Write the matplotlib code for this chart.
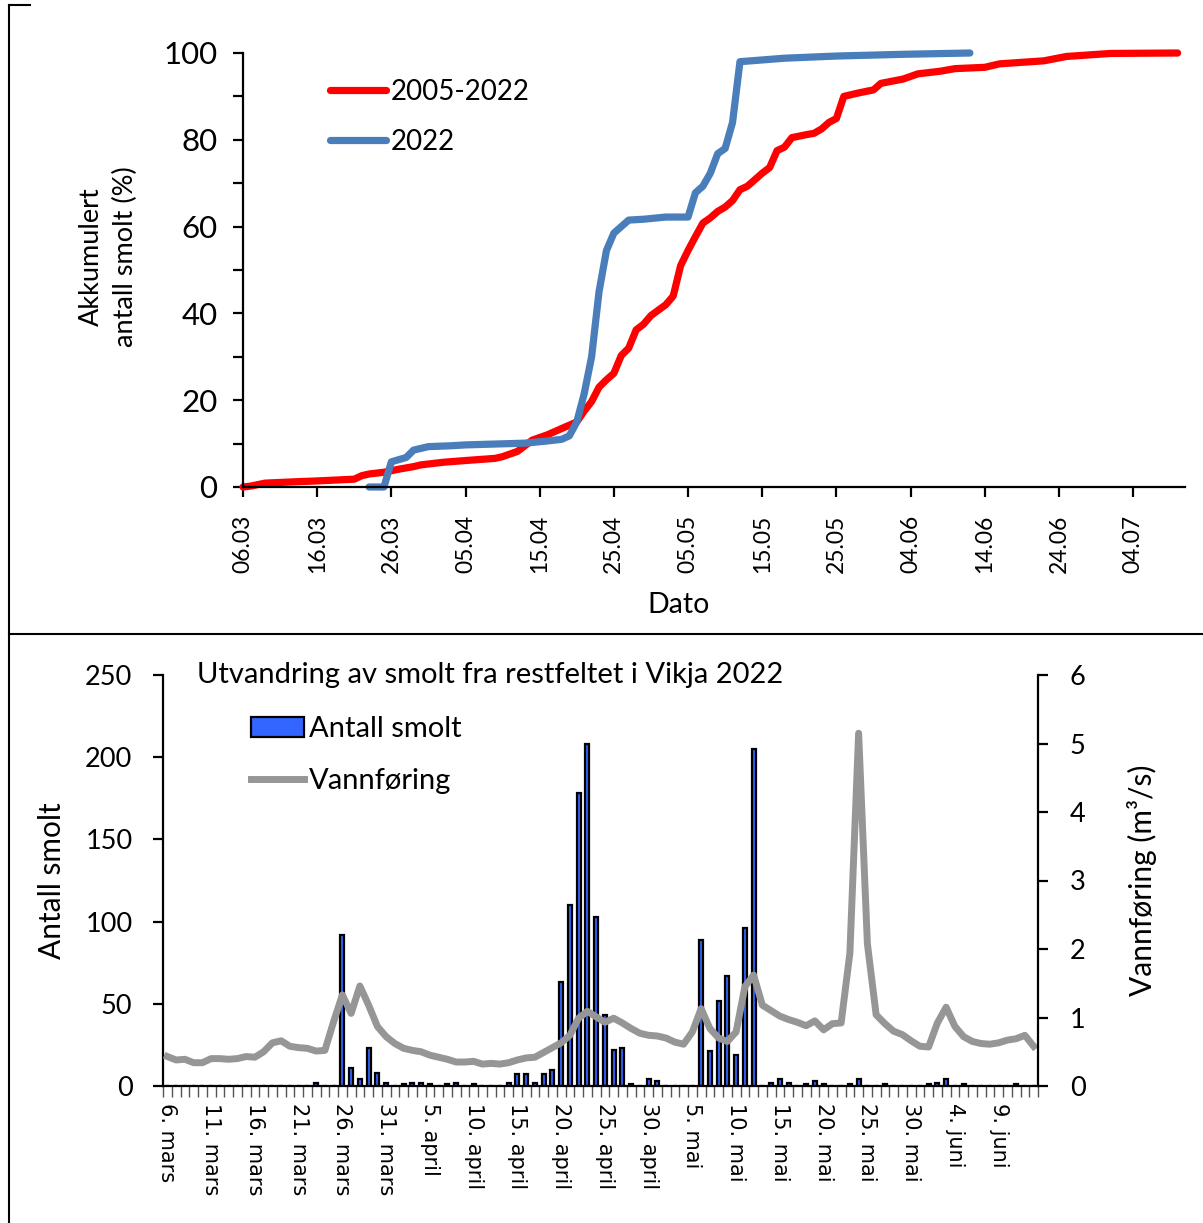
import matplotlib
matplotlib.use("Agg")
import matplotlib.pyplot as plt
from matplotlib.lines import Line2D
import numpy as np

plt.rcParams['font.family'] = ['Lato', 'DejaVu Sans']

# --- øvre figur: akkumulert andel smolt (dag 0 = 06.03) ---
dager_snitt = [0, 1, 3, 7, 10, 15, 16, 17, 19, 21, 23, 24, 27, 30, 34, 35, 37, 38, 39,
               41, 43, 45, 46, 47, 48, 49, 50, 51, 52, 53, 54, 55, 57, 58, 59, 60, 61,
               62, 63, 64, 65, 66, 67, 68, 69, 70, 71, 72, 73, 74, 76, 77, 78, 79, 80,
               81, 83, 85, 86, 89, 91, 94, 96, 100, 102, 108, 111, 117, 126]
akk_snitt = [0, 0.2, 0.9, 1.2, 1.4, 1.8, 2.6, 3.0, 3.4, 4.1, 4.7, 5.1, 5.7, 6.1, 6.6, 7.0,
             8.2, 9.5, 10.8, 12.0, 13.5, 15.0, 17.5, 19.7, 23.0, 24.7, 26.2, 30.3, 32.0,
             36.2, 37.5, 39.5, 42.0, 44.0, 51.0, 54.5, 57.7, 60.8, 62.0, 63.5, 64.5, 66.0,
             68.5, 69.3, 70.8, 72.3, 73.6, 77.5, 78.3, 80.5, 81.2, 81.5, 82.5, 84.0, 84.9,
             90.0, 90.8, 91.5, 93.0, 94.0, 95.2, 95.8, 96.4, 96.7, 97.5, 98.2, 99.2, 99.9,
             100]
dager_2022 = [17, 19, 20, 21, 22, 23, 25, 28, 30, 34, 38, 41, 43, 44, 45, 46, 47, 48, 49,
              50, 52, 54, 57, 60, 61, 62, 63, 64, 65, 66, 67, 70, 73, 80, 89, 98]
akk_2022 = [0, 0, 5.8, 6.3, 6.8, 8.5, 9.3, 9.5, 9.7, 9.9, 10.1, 10.6, 11.0, 11.8, 15.0,
            21.5, 30.0, 45.0, 54.5, 58.5, 61.5, 61.7, 62.2, 62.2, 67.8, 69.3, 72.3, 76.8,
            78.0, 84.0, 98.0, 98.4, 98.8, 99.3, 99.7, 100]
dato_etiketter = ["06.03", "16.03", "26.03", "05.04", "15.04", "25.04", "05.05",
                  "15.05", "25.05", "04.06", "14.06", "24.06", "04.07"]

# --- nedre figur: daglig utvandring 2022 (6. mars - 13. juni) ---
dag_etiketter = ["6. mars", "11. mars", "16. mars", "21. mars", "26. mars", "31. mars",
                 "5. april", "10. april", "15. april", "20. april", "25. april",
                 "30. april", "5. mai", "10. mai", "15. mai", "20. mai", "25. mai",
                 "30. mai", "4. juni", "9. juni"]
antall_smolt = [0, 0, 0, 0, 0, 0, 0, 0, 0, 0,
                0, 0, 0, 0, 0, 0, 0, 2, 0, 0,
                92, 11, 4, 23, 8, 2, 0, 1, 2, 2,
                1, 0, 1, 2, 0, 1, 0, 0, 0, 2,
                7, 7, 2, 7, 10, 63, 110, 178, 208, 103,
                43, 22, 23, 1, 0, 4, 3, 0, 0, 0,
                0, 89, 21, 52, 67, 19, 96, 205, 0, 2,
                4, 2, 0, 1, 3, 1, 0, 0, 1, 4,
                0, 0, 1, 0, 0, 0, 0, 1, 2, 4,
                0, 1, 0, 0, 0, 0, 0, 1, 0, 0]
vannforing = [0.43, 0.38, 0.39, 0.34, 0.34, 0.40, 0.40, 0.39, 0.40, 0.43,
              0.42, 0.50, 0.63, 0.66, 0.58, 0.56, 0.55, 0.51, 0.52, 0.94,
              1.33, 1.06, 1.46, 1.18, 0.87, 0.72, 0.62, 0.55, 0.52, 0.50,
              0.45, 0.42, 0.39, 0.35, 0.35, 0.36, 0.32, 0.33, 0.32, 0.34,
              0.38, 0.41, 0.42, 0.49, 0.56, 0.63, 0.74, 0.99, 1.09, 1.01,
              0.93, 0.99, 0.92, 0.84, 0.77, 0.74, 0.73, 0.70, 0.64, 0.61,
              0.79, 1.13, 0.84, 0.70, 0.65, 0.79, 1.45, 1.62, 1.18, 1.10,
              1.02, 0.97, 0.93, 0.88, 0.95, 0.82, 0.91, 0.92, 1.94, 5.15,
              2.08, 1.04, 0.91, 0.80, 0.75, 0.66, 0.58, 0.57, 0.92, 1.15,
              0.87, 0.72, 0.65, 0.62, 0.61, 0.63, 0.67, 0.69, 0.74, 0.58]

W, H = 1203, 1223
fig = plt.figure(figsize=(W / 100, H / 100), dpi=100)


def boks(v, t, h, b):
    return [v / W, 1 - b / H, (h - v) / W, (b - t) / H]


# ---------- øvre panel ----------
ax1 = fig.add_axes(boks(243, 53, 1185, 487))
ax1.plot(dager_snitt, akk_snitt, color="#FF0000", lw=5.2, solid_capstyle="round",
         solid_joinstyle="round", clip_on=False, label="2005-2022")
ax1.plot(dager_2022, akk_2022, color="#4A7EBB", lw=5.2, solid_capstyle="round",
         solid_joinstyle="round", clip_on=False, label="2022")
ax1.set_xlim(0, 127)
ax1.set_ylim(0, 100)
ax1.set_yticks(range(0, 101, 20))
ax1.set_yticks(range(10, 100, 20), minor=True)
ax1.set_xticks(range(0, 121, 10))
ax1.set_xticklabels(dato_etiketter, rotation=90)
for s in ["top", "right"]:
    ax1.spines[s].set_visible(False)
for s in ["left", "bottom"]:
    ax1.spines[s].set_linewidth(1.6)
ax1.tick_params(which="both", direction="out", length=7, width=1.6)
ax1.tick_params(axis="y", labelsize=22.5, pad=11.5)
ax1.tick_params(axis="x", labelsize=16.5, pad=13)
ax1.set_xlabel("Dato", fontsize=20.5)
ax1.xaxis.set_label_coords(0.462, -0.242)
ax1.set_ylabel("Akkumulert\nantall smolt (%)", fontsize=19.5, linespacing=1.45)
ax1.yaxis.set_label_coords(-0.111, 0.53)
ax1.legend(loc="upper left", bbox_to_anchor=(330 / W, 1 - 79 / H),
           bbox_transform=fig.transFigure, frameon=False, fontsize=20,
           handlelength=2.0, handletextpad=0.18, labelspacing=0.86, borderpad=0,
           borderaxespad=0)

# ---------- nedre panel ----------
x = np.arange(len(antall_smolt))
ax2 = fig.add_axes(boks(163, 675, 1038, 1086))
ax2.bar(x, antall_smolt, width=0.45, color="#3366FF", edgecolor="black",
        linewidth=1.6, label="Antall smolt")
ax2.set_xlim(-0.5, len(x) - 0.5)
ax2.set_ylim(0, 250)
ax2.set_yticks(range(0, 251, 50))
ax2.set_xticks(np.arange(0, len(x), 5))
ax2.set_xticklabels(dag_etiketter, rotation=-90, family="DejaVu Sans", fontsize=15)
ax2.set_xticks(np.arange(-0.5, len(x), 1), minor=True)
ax2.tick_params(axis="x", which="major", length=0, pad=12)
ax2.tick_params(axis="x", which="minor", length=8, width=1, color="#555555")
ax2.tick_params(axis="y", direction="out", length=7, width=1.6, labelsize=19.5, pad=15)
for s in ["top", "right"]:
    ax2.spines[s].set_visible(False)
for s in ["left", "bottom"]:
    ax2.spines[s].set_linewidth(1.6)
ax2.set_ylabel("Antall smolt", fontsize=21.5)
ax2.yaxis.set_label_coords(-0.111, 0.5)

ax3 = ax2.twinx()
ax3.plot(x, vannforing, color="#969696", lw=5, solid_joinstyle="round",
         label="Vannføring")
ax3.set_ylim(0, 6)
ax3.set_yticks(range(0, 7))
for s in ["top", "left", "bottom"]:
    ax3.spines[s].set_visible(False)
ax3.spines["right"].set_linewidth(1.6)
ax3.tick_params(axis="y", direction="out", length=7, width=1.6, labelsize=19.5, pad=16)
ax3.set_ylabel("Vannføring (m³/s)", fontsize=21.5, labelpad=30)

fig.text(197 / W, 1 - 675 / H, "Utvandring av smolt fra restfeltet i Vikja 2022",
         fontsize=21, va="center", ha="left")

h2, l2 = ax2.get_legend_handles_labels()
h3, l3 = ax3.get_legend_handles_labels()
ax3.legend(h2 + h3, l2 + l3, loc="upper left", bbox_to_anchor=(251 / W, 1 - 716 / H),
           bbox_transform=fig.transFigure, frameon=False, fontsize=21,
           handlelength=1.8, handletextpad=0.2, labelspacing=0.9, borderpad=0,
           borderaxespad=0)

# rammer rundt panelene
for xs, ys in [([9, 9], [5, H]), ([9, W], [634, 634]), ([9, 30], [5, 5])]:
    fig.add_artist(Line2D([v / W for v in xs], [1 - v / H for v in ys],
                          color="black", lw=1.5))

fig.savefig("out.png", dpi=100)
